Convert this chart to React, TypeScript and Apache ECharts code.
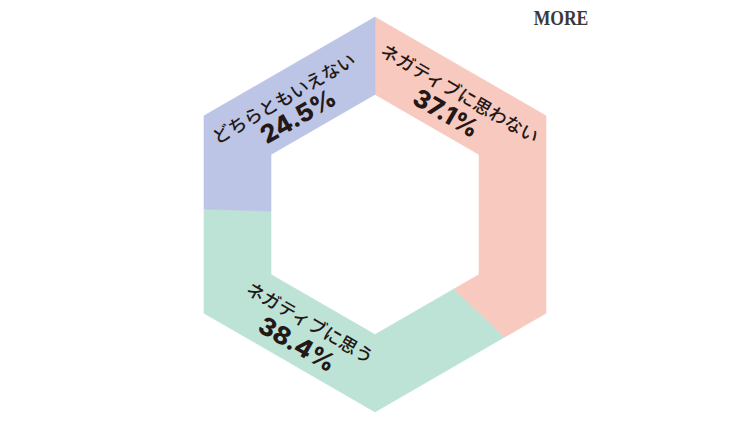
import React, { useEffect, useRef } from "react";
import * as echarts from "echarts";

// ---- data ----
const categories = ["ネガティブに思わない", "ネガティブに思う", "どちらともいえない"];
const values = [37.1, 38.4, 24.5];
const percentLabels = ["37.1%", "38.4%", "24.5%"];

// ---- styles / layout (kept separate from data) ----
const palette = ["#f7c9bf", "#bde3d7", "#bcc5e6"];
// polar anchor for each label: angle (deg, math), name radius, percent radius, rotation (deg)
const labelAngle = [55, -121, 128];
const nameRadius = [149, 125, 149];
const pctRadius = [124, 151, 125];
const labelRotation = [-30, -30, 30];

const CX = 375;
const CY = 214.5;
const OUTER_APOTHEM = 171;
const INNER_APOTHEM = 104;

function hexRadius(apothem: number, theta: number) {
  const step = Math.PI / 3;
  const n = Math.round(theta / step) * step;
  return apothem / Math.cos(theta - n);
}

function pt(apothem: number, deg: number) {
  const t = (deg * Math.PI) / 180;
  const r = hexRadius(apothem, t);
  return [CX + r * Math.cos(t), CY - r * Math.sin(t)];
}

function polar(r: number, deg: number) {
  const t = (deg * Math.PI) / 180;
  return [CX + r * Math.cos(t), CY - r * Math.sin(t)];
}

export default function App() {
  const ref = useRef<HTMLDivElement>(null);
  useEffect(() => {
    if (!ref.current) return;
    const chart = echarts.init(ref.current, undefined, { renderer: "svg" });
    const total = values.reduce((a, b) => a + b, 0);

    const renderItem = (params: any, api: any) => {
      const idx = params.dataIndex;
      let before = 0;
      for (let i = 0; i < idx; i++) before += values[i];
      const v = api.value(0);
      const a0 = 90 - (before / total) * 360;
      const a1 = a0 - (v / total) * 360;
      const angles: number[] = [a0];
      const kStart = Math.floor((a0 - 30) / 60);
      for (let k = kStart; ; k--) {
        const va = 30 + 60 * k;
        if (va <= a1) break;
        if (va < a0) angles.push(va);
      }
      angles.push(a1);
      const outer = angles.map((a) => pt(OUTER_APOTHEM, a));
      const inner = angles.slice().reverse().map((a) => pt(INNER_APOTHEM, a));
      const points = outer.concat(inner);

      const [nx, ny] = polar(nameRadius[idx], labelAngle[idx]);
      const [px, py] = polar(pctRadius[idx], labelAngle[idx]);
      const rot = (labelRotation[idx] * Math.PI) / 180;

      return {
        type: "group",
        children: [
          {
            type: "polygon",
            shape: { points },
            style: { fill: palette[idx], stroke: palette[idx], lineWidth: 0.6 },
          },
          {
            type: "text",
            x: nx,
            y: ny,
            rotation: rot,
            z2: 10,
            style: {
              text: categories[idx],
              x: 0,
              y: 0,
              align: "center",
              verticalAlign: "middle",
              textAlign: "center",
              textVerticalAlign: "middle",
              font: "500 18px 'Noto Sans CJK JP'",
              fill: "#231815",
            },
          },
          {
            type: "text",
            x: px,
            y: py,
            rotation: rot,
            z2: 10,
            style: {
              text: percentLabels[idx],
              x: 0,
              y: 0,
              align: "center",
              verticalAlign: "middle",
              textAlign: "center",
              textVerticalAlign: "middle",
              font: "800 25px Inter",
              fill: "#231815",
            },
          },
        ],
      };
    };

    chart.setOption({
      animation: false,
      backgroundColor: "#ffffff",
      series: [
        {
          type: "custom",
          coordinateSystem: "none",
          renderItem,
          data: values.map((v, i) => ({ value: [v], name: categories[i] })),
        },
      ],
      graphic: [
        {
          type: "text",
          x: 561,
          y: 17,
          scaleX: 0.8,
          style: {
            text: "MORE",
            align: "center",
            verticalAlign: "middle",
            textAlign: "center",
            textVerticalAlign: "middle",
            font: "bold 22px 'Liberation Serif'",
            fill: "#3a3a3a",
          },
        },
      ],
    });
    return () => chart.dispose();
  }, []);
  return (
    <div
      ref={ref}
      style={{ position: "fixed", left: 0, top: 0, width: 750, height: 429 }}
    />
  );
}
